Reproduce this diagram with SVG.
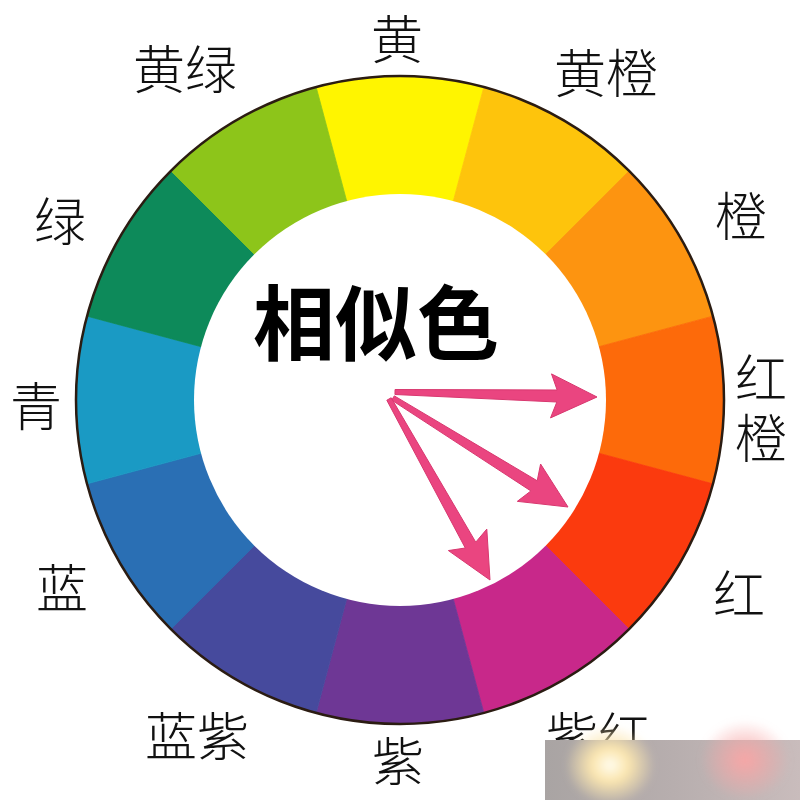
<svg xmlns="http://www.w3.org/2000/svg" width="800" height="800" viewBox="0 0 800 800">
<style>
.lbl{font-family:"Noto Sans CJK SC","Noto Sans CJK JP",sans-serif;font-size:52px;font-weight:300;fill:#111;text-anchor:middle}
.vlbl{font-family:"Noto Sans CJK SC","Noto Sans CJK JP",sans-serif;font-size:52px;font-weight:300;fill:#111;writing-mode:vertical-rl;letter-spacing:8px}
.title{font-family:"Noto Sans CJK SC","Noto Sans CJK JP",sans-serif;font-size:82px;font-weight:700;fill:#000;text-anchor:middle}
.arrow{fill:#ea4580;stroke:#d8386f;stroke-width:1;stroke-linejoin:round}
</style>
<defs>
<linearGradient id="wmBase" x1="0" y1="0" x2="1" y2="0">
<stop offset="0" stop-color="#a9a4a3"/>
<stop offset="0.5" stop-color="#b7aeae"/>
<stop offset="1" stop-color="#c9bcbc"/>
</linearGradient>
<radialGradient id="glowY" cx="0.5" cy="0.5" r="0.5">
<stop offset="0" stop-color="#fffdf0"/>
<stop offset="0.4" stop-color="#fbe6b0"/>
<stop offset="1" stop-color="#fbe6b0" stop-opacity="0"/>
</radialGradient>
<radialGradient id="glowP" cx="0.5" cy="0.5" r="0.5">
<stop offset="0" stop-color="#f7a6a6"/>
<stop offset="1" stop-color="#f7a6a6" stop-opacity="0"/>
</radialGradient>
<filter id="soft" x="-20%" y="-20%" width="140%" height="140%"><feGaussianBlur stdDeviation="3"/></filter>
</defs>
<rect width="800" height="800" fill="#ffffff"/>

<g id="wheel">
<g id="seg-huang"><path d="M400,400 L316.15,87.05 A324,324 0 0 1 483.85,87.05 Z" fill="#fff500" stroke="#fff500" stroke-width="0.8"/><text class="lbl" x="397" y="59">黄</text></g>
<g id="seg-huangcheng"><path d="M400,400 L483.85,87.05 A324,324 0 0 1 629.10,170.90 Z" fill="#fec40c" stroke="#fec40c" stroke-width="0.8"/><text class="lbl" x="606" y="93">黄橙</text></g>
<g id="seg-cheng"><path d="M400,400 L629.10,170.90 A324,324 0 0 1 712.95,316.15 Z" fill="#fd9410" stroke="#fd9410" stroke-width="0.8"/><text class="lbl" x="741" y="236">橙</text></g>
<g id="seg-hongcheng"><path d="M400,400 L712.95,316.15 A324,324 0 0 1 712.95,483.85 Z" fill="#fd6a0a" stroke="#fd6a0a" stroke-width="0.8"/><text class="vlbl" x="761" y="352">红橙</text></g>
<g id="seg-hong"><path d="M400,400 L712.95,483.85 A324,324 0 0 1 629.10,629.10 Z" fill="#fb3a0e" stroke="#fb3a0e" stroke-width="0.8"/><text class="lbl" x="739" y="614">红</text></g>
<g id="seg-zihong"><path d="M400,400 L629.10,629.10 A324,324 0 0 1 483.85,712.95 Z" fill="#c8288a" stroke="#c8288a" stroke-width="0.8"/><text class="lbl" x="598" y="756">紫红</text></g>
<g id="seg-zi"><path d="M400,400 L483.85,712.95 A324,324 0 0 1 316.15,712.95 Z" fill="#6e3795" stroke="#6e3795" stroke-width="0.8"/><text class="lbl" x="398" y="781">紫</text></g>
<g id="seg-lanzi"><path d="M400,400 L316.15,712.95 A324,324 0 0 1 170.90,629.10 Z" fill="#464a9d" stroke="#464a9d" stroke-width="0.8"/><text class="lbl" x="197" y="756">蓝紫</text></g>
<g id="seg-lan"><path d="M400,400 L170.90,629.10 A324,324 0 0 1 87.05,483.85 Z" fill="#2a6fb4" stroke="#2a6fb4" stroke-width="0.8"/><text class="lbl" x="62" y="608">蓝</text></g>
<g id="seg-qing"><path d="M400,400 L87.05,483.85 A324,324 0 0 1 87.05,316.15 Z" fill="#1a9ac4" stroke="#1a9ac4" stroke-width="0.8"/><text class="lbl" x="36" y="426">青</text></g>
<g id="seg-lv"><path d="M400,400 L87.05,316.15 A324,324 0 0 1 170.90,170.90 Z" fill="#0d8a5a" stroke="#0d8a5a" stroke-width="0.8"/><text class="lbl" x="60" y="241">绿</text></g>
<g id="seg-huanglv"><path d="M400,400 L170.90,170.90 A324,324 0 0 1 316.15,87.05 Z" fill="#8dc51a" stroke="#8dc51a" stroke-width="0.8"/><text class="lbl" x="185" y="89">黄绿</text></g>
<circle cx="400" cy="400" r="324" fill="none" stroke="#2b1c12" stroke-width="2.5"/>
<circle cx="400" cy="400" r="206" fill="#ffffff"/>
</g>

<g id="center-title"><text class="title" x="376" y="354">相似色</text></g>

<g id="connectors">
<polygon class="arrow" points="395.06,389.5 557.15,390 551.5,373.9 597,397 550.5,417.9 556.85,402 394.94,394.5"/>
<polygon class="arrow" points="394.32,395.88 537.22,480.77 540.59,464.01 568,507 517.33,501.35 530.88,490.95 391.68,400.12"/>
<polygon class="arrow" points="391.18,397.78 475.75,542.15 486.80,529.12 490,580 448.38,550.56 465.27,548.01 386.82,400.22"/>
</g>

<g id="watermark">
<rect x="545" y="740" width="255" height="60" fill="url(#wmBase)"/>
<ellipse cx="610" cy="765" rx="45" ry="40" fill="url(#glowY)" filter="url(#soft)"/>
<ellipse cx="745" cy="760" rx="45" ry="40" fill="url(#glowP)" filter="url(#soft)"/>
</g>
</svg>
